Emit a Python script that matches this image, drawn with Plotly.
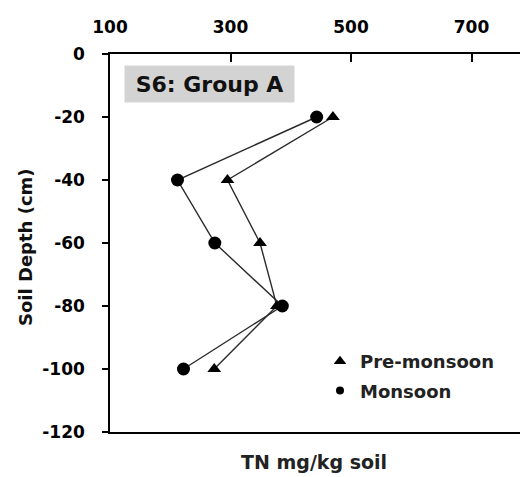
import plotly.graph_objects as go

depth = [-20, -40, -60, -80, -100]
pre_monsoon = [470, 295, 349, 377, 273]
monsoon = [443, 212, 274, 386, 222]
x_ticks = [100, 300, 500, 700]
y_ticks = [0, -20, -40, -60, -80, -100, -120]
y_tick_labels = ["0", "-20", "-40", "-60", "-80", "-100", "-120"]

FONT = "DejaVu Sans"
line_col = "#2b2b2b"

fig = go.Figure()
fig.add_trace(go.Scatter(x=pre_monsoon, y=depth, mode="lines+markers",
                         line=dict(color=line_col, width=1.4),
                         marker=dict(symbol="triangle-up", size=12, color="black"),
                         showlegend=False))
fig.add_trace(go.Scatter(x=monsoon, y=depth, mode="lines+markers",
                         line=dict(color=line_col, width=1.4),
                         marker=dict(symbol="circle", size=13, color="black"),
                         showlegend=False))
# legend entries (markers only)
fig.add_trace(go.Scatter(x=[None], y=[None], mode="markers", name="Pre-monsoon",
                         legendgroup="a",
                         marker=dict(symbol="triangle-up", size=11, color="black")))
fig.add_trace(go.Scatter(x=[None], y=[None], mode="markers", name="Monsoon",
                         legendgroup="b",
                         marker=dict(symbol="circle", size=8, color="black")))

PW, PH = 418, 378  # plot area size

fig.update_layout(
    width=520, height=469,
    margin=dict(l=102, r=0, t=46, b=45),
    paper_bgcolor="white", plot_bgcolor="white",
    font=dict(family=FONT, color="black"),
    showlegend=True,
    legend=dict(x=(320 - 110) / PW, y=(432 - 343) / PH, xanchor="left", yanchor="top",
                bgcolor="rgba(0,0,0,0)", tracegroupgap=3,
                font=dict(family=FONT, size=18, color="#222", weight="bold")),
    xaxis=dict(range=[100, 100 + PW / 0.6025], side="top", tickvals=x_ticks,
               ticks="inside", ticklen=8, tickwidth=1.5, tickcolor="black",
               showline=True, linecolor="black", linewidth=1.5, mirror=True,
               showgrid=False, zeroline=False, ticklabelstandoff=12,
               tickfont=dict(family=FONT, size=17, color="black", weight="bold")),
    yaxis=dict(range=[-120, 0], tickvals=y_ticks, ticktext=y_tick_labels,
               ticks="outside", ticklen=6, tickwidth=1.5, tickcolor="black",
               showline=True, linecolor="black", linewidth=1.5,
               showgrid=False, zeroline=False, ticklabelstandoff=14,
               tickfont=dict(family=FONT, size=17, color="black", weight="bold")),
    annotations=[
        dict(text="S6: Group A", xref="paper", yref="paper",
             x=(124 - 110) / PW, y=(432 - 65) / PH, xanchor="left", yanchor="top",
             showarrow=False, bgcolor="#d3d3d3", width=161, height=28, borderpad=4,
             font=dict(family=FONT, size=22, color="#111", weight="bold")),
        dict(text="TN mg/kg soil", xref="paper", yref="paper",
             x=(314 - 110) / PW, y=(432 - 462) / PH, xanchor="center", yanchor="middle",
             showarrow=False,
             font=dict(family=FONT, size=19, color="#222", weight="bold")),
        dict(text="Soil Depth (cm)", xref="paper", yref="paper",
             x=(25 - 110) / PW, y=(432 - 247) / PH, xanchor="center", yanchor="middle",
             showarrow=False, textangle=-90,
             font=dict(family=FONT, size=18, color="#111", weight="bold")),
    ],
)

fig.write_html("out.html")
